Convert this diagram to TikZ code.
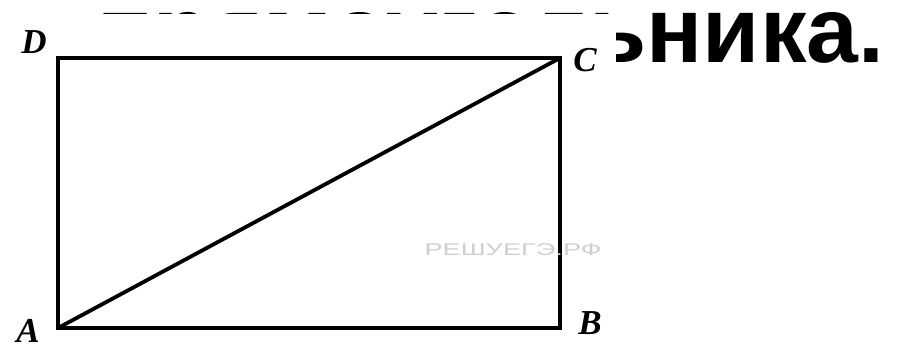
\documentclass[tikz,border=0pt]{standalone}
\usepackage{fontspec}
\setmainfont{Liberation Serif}
\newfontfamily\headfont{Liberation Sans}

\begin{document}
\begin{tikzpicture}[x=1pt,y=-1pt,line width=3.8pt,
  vlabel/.style={font=\fontsize{35}{35}\selectfont\bfseries\itshape,inner sep=0pt},
  stamp/.style={font=\headfont\fontsize{17}{17}\selectfont,text=gray!38,inner sep=0pt}]
  \useasboundingbox (0,0) rectangle (897,349);
  \clip (0,0) rectangle (897,349);
  % heading, mostly hidden by the figure
  \node[anchor=base east,inner sep=0pt,
    font=\headfont\bfseries\fontsize{93}{93}\selectfont] (title) at (886,62)
    {прямоугольника.};
  \fill[white] (0,13.5) rectangle (616,349);

  \coordinate (A) at (58,328);
  \coordinate (B) at (560,328);
  \coordinate (C) at (560,58);
  \coordinate (D) at (58,58);
  \draw[line join=miter] (A) -- (B) -- (C) -- (D) -- cycle;
  \draw (A) -- (C);

  \node[vlabel] (lA) at (28,331) {A};
  \node[vlabel] (lB) at (590,323) {B};
  \node[vlabel] (lC) at (585,60) {C};
  \node[vlabel] (lD) at (34,42) {D};
  \node[stamp] (wm) at (513,250) {\scalebox{1.6}[1]{РЕШУЕГЭ.РФ}};
\end{tikzpicture}
\end{document}
